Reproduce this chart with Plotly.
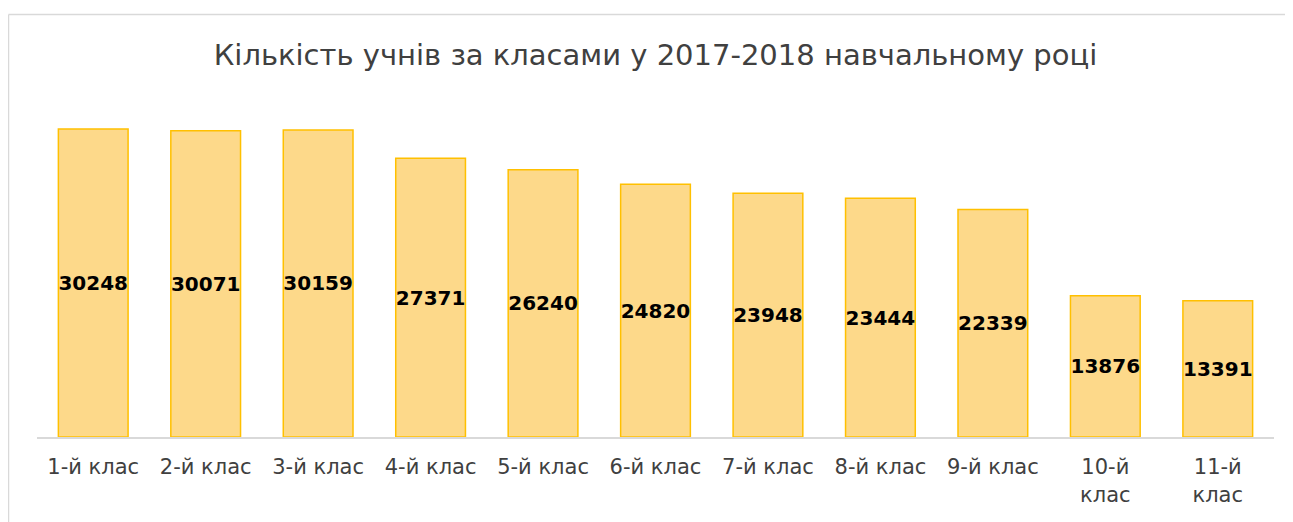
import plotly.graph_objects as go

categories = ["1-й клас", "2-й клас", "3-й клас", "4-й клас", "5-й клас", "6-й клас",
              "7-й клас", "8-й клас", "9-й клас", "10-й<br>клас", "11-й<br>клас"]
students = [30248, 30071, 30159, 27371, 26240, 24820, 23948, 23444, 22339, 13876, 13391]
title_text = "Кількість учнів за класами у 2017-2018 навчальному році"

W, H = 1293, 522
off = 8  # page body margin
ml, mr, mt, mb = 37 - off, 27, 101 - off, 93
pw, ph = W - ml - mr, H - mt - mb

fig = go.Figure(go.Bar(
    x=categories, y=students,
    text=[str(v) for v in students],
    textposition="inside", insidetextanchor="middle", textangle=0,
    constraintext="none",
    insidetextfont=dict(family="DejaVu Sans", size=20, color="#000000", weight="bold"),
    marker=dict(color="#FDD98A", line=dict(color="#FFC000", width=1.5)),
    hoverinfo="skip",
))

border = "#D9D9D9"
bx = (0.5 - ml) / pw
by = (H - mb - (14.5 - off)) / ph
fig.add_shape(type="line", xref="paper", yref="paper", x0=bx, x1=bx, y0=-1, y1=by,
              line=dict(color=border, width=1.5))
fig.add_shape(type="line", xref="paper", yref="paper", x0=bx, x1=1.2, y0=by, y1=by,
              line=dict(color=border, width=1.5))

fig.update_layout(
    width=W, height=H,
    margin=dict(l=ml, r=mr, t=mt, b=mb),
    paper_bgcolor="white", plot_bgcolor="white",
    bargap=0.38,
    showlegend=False,
    title=dict(text=title_text, x=0.5, xanchor="center", xref="paper",
               yref="container", y=1 - (55 - off) / H, yanchor="middle",
               font=dict(family="DejaVu Sans", size=29, color="#404040")),
    xaxis=dict(showline=True, linecolor="#D9D9D9", linewidth=2, ticks="",
               ticklabelstandoff=10,
               tickfont=dict(family="DejaVu Sans", size=21, color="#404040"),
               showgrid=False, fixedrange=True),
    yaxis=dict(range=[0, 33000], visible=False, showgrid=False, fixedrange=True),
)

fig.write_html("out.html")
